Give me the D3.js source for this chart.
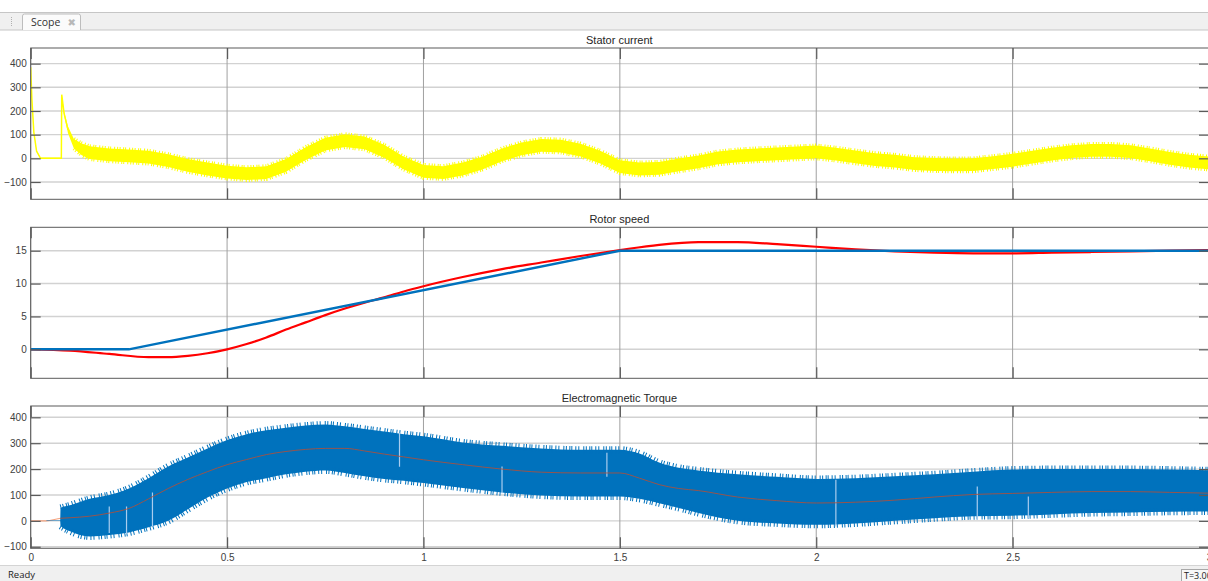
<!DOCTYPE html>
<html>
<head>
<meta charset="utf-8">
<script src="https://cdn.jsdelivr.net/npm/d3@7"></script>
<style>
  html, body { margin: 0; padding: 0; background: #ffffff; overflow: hidden; }
  svg { display: block; }
  text { font-family: "Liberation Sans", Arial, Helvetica, sans-serif; }
</style>
</head>
<body>
<svg id="chart" width="1208" height="581"></svg>
<script>
// ---------------- DATA ----------------
const panelTitles = ["Stator current", "Rotor speed", "Electromagnetic Torque"];
const xTicks = [0, 0.5, 1, 1.5, 2, 2.5, 3];
const xTickLabels = ["0", "0.5", "1", "1.5", "2", "2.5", "3"];
const currentTicks = [-100, 0, 100, 200, 300, 400];
const speedTicks = [0, 5, 10, 15];
const torqueTicks = [-100, 0, 100, 200, 300, 400];

// Stator current: band centre and half-width of the ripple
const currentT = [0, 0.003, 0.008, 0.015, 0.025, 0.078, 0.079, 0.085, 0.095, 0.11, 0.13, 0.15, 0.2, 0.25, 0.3, 0.35, 0.4, 0.45, 0.5, 0.55, 0.6, 0.65, 0.7, 0.75, 0.8, 0.85, 0.9, 0.95, 1.0, 1.05, 1.1, 1.15, 1.2, 1.25, 1.3, 1.35, 1.4, 1.45, 1.5, 1.55, 1.6, 1.65, 1.7, 1.75, 1.8, 1.85, 1.9, 1.95, 2.0, 2.05, 2.1, 2.15, 2.2, 2.25, 2.3, 2.35, 2.4, 2.45, 2.5, 2.55, 2.6, 2.65, 2.7, 2.75, 2.8, 2.85, 2.9, 2.95, 3.0];
const currentMid = [385, 250, 110, 30, 0, 0, 269, 190, 120, 62, 38, 24, 15, 10, 5, -10, -30, -45, -58, -65, -60, -30, 20, 60, 75, 65, 30, -20, -55, -60, -45, -20, 15, 40, 55, 52, 35, 5, -35, -45, -42, -28, -15, 2, 10, 15, 19, 23, 27, 18, 6, -5, -12, -22, -26, -28, -27, -18, -8, 5, 18, 28, 34, 34, 28, 15, 0, -12, -20];
const currentRipple = [2, 2, 2, 2, 2, 2, 3, 8, 14, 20, 25, 27, 27, 27, 27, 27, 27, 27, 27, 27, 27, 27, 27, 27, 27, 27, 27, 27, 27, 27, 27, 27, 27, 27, 27, 27, 27, 27, 27, 27, 27, 27, 27, 27, 27, 27, 27, 27, 27, 27, 27, 27, 27, 27, 27, 27, 27, 27, 27, 27, 27, 27, 27, 27, 27, 27, 27, 27, 27];

// Rotor speed: reference (blue) and measured (red)
const speedRefT = [0, 0.25, 1.5, 3.0];
const speedRef = [0, 0, 15, 15];
const speedT = [0, 0.1, 0.2, 0.3, 0.35, 0.4, 0.45, 0.5, 0.55, 0.6, 0.65, 0.7, 0.75, 0.8, 0.85, 0.9, 0.95, 1.0, 1.1, 1.2, 1.3, 1.4, 1.5, 1.6, 1.7, 1.8, 1.9, 2.0, 2.1, 2.2, 2.3, 2.4, 2.5, 2.6, 2.7, 2.8, 2.9, 3.0];
const speedMeas = [0, -0.2, -0.7, -1.2, -1.2, -1.0, -0.6, 0, 0.8, 1.8, 3.0, 4.1, 5.2, 6.2, 7.1, 7.9, 8.8, 9.6, 11.0, 12.2, 13.2, 14.2, 15.1, 15.9, 16.3, 16.3, 16.0, 15.6, 15.2, 14.9, 14.7, 14.6, 14.6, 14.7, 14.8, 14.9, 15.0, 15.1];

// Electromagnetic torque: ripple envelope (upper/lower) and mean line
const torqueT = [0.04, 0.075, 0.076, 0.1, 0.15, 0.2, 0.25, 0.3, 0.35, 0.4, 0.45, 0.5, 0.55, 0.6, 0.65, 0.7, 0.75, 0.8, 0.85, 0.9, 0.95, 1.0, 1.1, 1.2, 1.3, 1.4, 1.5, 1.55, 1.6, 1.65, 1.7, 1.8, 1.9, 2.0, 2.1, 2.2, 2.3, 2.4, 2.5, 2.6, 2.7, 2.8, 2.9, 3.0];
const torqueUpper = [1, 1, 50, 60, 85, 100, 125, 165, 210, 245, 280, 312, 335, 350, 360, 368, 372, 365, 355, 345, 335, 327, 303, 290, 280, 275, 275, 260, 225, 205, 195, 180, 170, 162, 165, 172, 180, 190, 198, 200, 200, 200, 198, 195];
const torqueLower = [-1, -1, -20, -40, -60, -55, -45, -25, 0, 45, 90, 125, 150, 165, 180, 190, 195, 185, 172, 162, 155, 146, 127, 110, 98, 94, 94, 85, 68, 50, 30, 0, -10, -15, -10, 0, 10, 18, 20, 25, 30, 32, 35, 36];
const torqueMeanT = [0, 0.04, 0.076, 0.1, 0.15, 0.2, 0.25, 0.3, 0.35, 0.4, 0.45, 0.5, 0.55, 0.6, 0.65, 0.7, 0.75, 0.8, 0.85, 0.9, 0.95, 1.0, 1.1, 1.2, 1.3, 1.4, 1.5, 1.55, 1.6, 1.65, 1.7, 1.8, 1.9, 2.0, 2.1, 2.2, 2.3, 2.4, 2.5, 2.6, 2.7, 2.8, 2.9, 3.0];
const torqueMean = [0, 0, 10, 12, 18, 30, 48, 85, 125, 160, 190, 217, 237, 256, 268, 276, 280, 280, 270, 258, 247, 236, 217, 200, 188, 185, 185, 165, 140, 125, 117, 92, 78, 69, 72, 80, 92, 102, 106, 110, 113, 113, 110, 107];
// short light glitches inside the torque band: time, top, bottom
const glitchT = [0.2, 0.244, 0.31, 0.939, 1.2, 1.467, 2.05, 2.41, 2.54];
const glitchTop = [55, 55, 110, 340, 210, 263, 159, 133, 94];
const glitchBottom = [-47, -50, -20, 209, 107, 170, -22, 4, 10];

// ---------------- LAYOUT ----------------
const W = 1208, H = 581;
const plotLeft = 30.7, plotRight = 1209;
const panels = [
  { title: panelTitles[0], top: 48, bottom: 199.3, domain: [-173, 466], ticks: currentTicks },
  { title: panelTitles[1], top: 227.3, bottom: 378.3, domain: [-4.41, 18.56], ticks: speedTicks },
  { title: panelTitles[2], top: 406, bottom: 548.3, domain: [-106, 443.7], ticks: torqueTicks }
];

const svg = d3.select("#chart");
const x = d3.scaleLinear().domain([0, 3]).range([plotLeft, plotRight]);

// ---------------- WINDOW CHROME ----------------
svg.append("rect").attr("x", 0).attr("y", 0).attr("width", W).attr("height", H).attr("fill", "#ffffff");
// tab strip
svg.append("rect").attr("x", 0).attr("y", 12.5).attr("width", W).attr("height", 17.5).attr("fill", "#f0f0f0");
svg.append("line").attr("x1", 0).attr("x2", W).attr("y1", 12.5).attr("y2", 12.5).attr("stroke", "#c6c6c6");
svg.append("line").attr("x1", 0).attr("x2", W).attr("y1", 30).attr("y2", 30).attr("stroke", "#c6c6c6");
svg.append("line").attr("x1", 11.5).attr("x2", 11.5).attr("y1", 17).attr("y2", 27).attr("stroke", "#b0b0b0").attr("stroke-dasharray", "1,1");
svg.append("path").attr("d", "M22.5,30 L22.5,16 Q22.5,14 24.5,14 L78.5,14 Q80.5,14 80.5,16 L80.5,30")
  .attr("fill", "#fbfbfb").attr("stroke", "#bdbdbd");
svg.append("text").attr("x", 31).attr("y", 25.5).attr("font-size", 10.5).attr("fill", "#333")
  .style("font-family", "'Open Sans', 'Noto Sans', sans-serif").text("Scope");
svg.append("text").attr("x", 67.5).attr("y", 25.5).attr("font-size", 10).attr("fill", "#b8b8b8")
  .style("font-family", "'DejaVu Sans', sans-serif").text("✖");

// status bar
svg.append("rect").attr("x", 0).attr("y", 566).attr("width", W).attr("height", 15).attr("fill", "#f0f0f0");
svg.append("line").attr("x1", 0).attr("x2", W).attr("y1", 565.5).attr("y2", 565.5).attr("stroke", "#d4d4d4");
svg.append("text").attr("x", 8).attr("y", 577.5).attr("font-size", 9.5).attr("fill", "#222")
  .style("font-family", "'Open Sans', 'Noto Sans', sans-serif").text("Ready");
svg.append("rect").attr("x", 1181.5).attr("y", 569.5).attr("width", 40).attr("height", 14).attr("fill", "#f7f7f7").attr("stroke", "#a8a8a8");
svg.append("text").attr("x", 1184).attr("y", 579).attr("font-size", 9).attr("fill", "#222")
  .style("font-family", "'Open Sans', 'Noto Sans', sans-serif").text("T=3.000");

// ---------------- PANELS ----------------
const defs = svg.append("defs");
panels.forEach((p, i) => {
  p.y = d3.scaleLinear().domain(p.domain).range([p.bottom, p.top]);
  defs.append("clipPath").attr("id", "clip" + i).append("rect")
    .attr("x", plotLeft).attr("y", p.top).attr("width", plotRight - plotLeft).attr("height", p.bottom - p.top);

  const g = svg.append("g");
  p.g = g;
  // title
  g.append("text").attr("x", (plotLeft + plotRight) / 2 - 0.5).attr("y", p.top - 4)
    .attr("text-anchor", "middle").attr("font-size", 11).attr("fill", "#262626").text(p.title);

  // grid
  const grid = g.append("g");
  grid.selectAll("line.h").data(p.ticks).enter().append("line")
    .attr("x1", plotLeft).attr("x2", plotRight)
    .attr("y1", d => p.y(d)).attr("y2", d => p.y(d))
    .attr("stroke", "#d2d2d2").attr("stroke-width", 1.4);
  grid.selectAll("line.v").data(xTicks).enter().append("line")
    .attr("x1", d => x(d)).attr("x2", d => x(d))
    .attr("y1", p.top).attr("y2", p.bottom)
    .attr("stroke", "#a0a0a0").attr("stroke-width", 1);

  p.data = g.append("g").attr("clip-path", "url(#clip" + i + ")");
});

// ---- Stator current ----
{
  const p = panels[0];
  const pts = currentT.map((t, k) => ({ t, m: currentMid[k], r: currentRipple[k] }));
  const area = d3.area().x(d => x(d.t)).y0(d => p.y(d.m - d.r)).y1(d => p.y(d.m + d.r));
  p.data.append("path").datum(pts).attr("d", area).attr("fill", "#ffff00");
  // ragged edges of the ripple band
  ["hi", "lo"].forEach(side => {
    const ln = d3.line().x(d => x(d.t)).y(d => p.y(side === "hi" ? d.m + d.r : d.m - d.r));
    p.data.append("path").datum(pts.slice(9)).attr("d", ln).attr("fill", "none")
      .attr("stroke", "#ffff00").attr("stroke-width", 4)
      .attr("stroke-dasharray", "1,1.5,1,2.5,1,1,1,3,1,2");
  });
  const ln = d3.line().x(d => x(d.t)).y(d => p.y(d.m));
  p.data.append("path").datum(pts.slice(0, 9)).attr("d", ln).attr("fill", "none")
    .attr("stroke", "#ffff00").attr("stroke-width", 1.5);
}

// ---- Rotor speed ----
{
  const p = panels[1];
  const lnMeas = d3.line().x((d, k) => x(speedT[k])).y(d => p.y(d)).curve(d3.curveMonotoneX);
  p.data.append("path").datum(speedMeas).attr("d", lnMeas).attr("fill", "none")
    .attr("stroke", "#ff0000").attr("stroke-width", 2.2);
  const lnRef = d3.line().x((d, k) => x(speedRefT[k])).y(d => p.y(d));
  p.data.append("path").datum(speedRef).attr("d", lnRef).attr("fill", "none")
    .attr("stroke", "#0072bd").attr("stroke-width", 2.4);
}

// ---- Electromagnetic torque ----
{
  const p = panels[2];
  const pts = torqueT.map((t, k) => ({ t, hi: torqueUpper[k], lo: torqueLower[k] }));
  const mean = d3.line().x((d, k) => x(torqueMeanT[k])).y(d => p.y(d)).curve(d3.curveMonotoneX);
  p.data.append("path").datum(torqueMean).attr("d", mean).attr("fill", "none")
    .attr("stroke", "#f4a37f").attr("stroke-width", 1.2);
  const area = d3.area().x(d => x(d.t)).y0(d => p.y(d.lo)).y1(d => p.y(d.hi)).curve(d3.curveMonotoneX);
  p.data.append("path").datum(pts).attr("d", area).attr("fill", "#0072bd");
  ["hi", "lo"].forEach(side => {
    const ln = d3.line().x(d => x(d.t)).y(d => p.y(d[side])).curve(d3.curveMonotoneX);
    p.data.append("path").datum(pts.slice(2)).attr("d", ln).attr("fill", "none")
      .attr("stroke", "#0072bd").attr("stroke-width", 7)
      .attr("stroke-dasharray", "1,1.5,1,2.5,1,1,1,3,1,2,1,4");
  });
  p.data.selectAll("line.glitch").data(glitchT).enter().append("line")
    .attr("x1", d => x(d)).attr("x2", d => x(d))
    .attr("y1", (d, k) => p.y(glitchTop[k])).attr("y2", (d, k) => p.y(glitchBottom[k]))
    .attr("stroke", "#a9cdef").attr("stroke-width", 1.2);
  p.data.append("path").datum(torqueMean.slice(2)).attr("d",
      d3.line().x((d, k) => x(torqueMeanT[k + 2])).y(d => p.y(d)).curve(d3.curveMonotoneX))
    .attr("fill", "none").attr("stroke", "#b0503a").attr("stroke-width", 1).attr("stroke-opacity", 0.85);
}

// ---------------- AXES & FRAMES ----------------
panels.forEach((p, i) => {
  const g = p.g;
  const left = g.append("g").attr("transform", `translate(${plotLeft},0)`)
    .call(d3.axisLeft(p.y).tickValues(p.ticks).tickSizeInner(-10).tickSizeOuter(0).tickPadding(4).tickFormat(d3.format("d")));
  const right = g.append("g").attr("transform", `translate(${plotRight},0)`)
    .call(d3.axisRight(p.y).tickValues(p.ticks).tickSizeInner(-10).tickSizeOuter(0).tickFormat(""));
  const top = g.append("g").attr("transform", `translate(0,${p.top})`)
    .call(d3.axisTop(x).tickValues(xTicks).tickSizeInner(-11).tickSizeOuter(0).tickFormat(""));
  const bottom = g.append("g").attr("transform", `translate(0,${p.bottom})`)
    .call(d3.axisBottom(x).tickValues(xTicks).tickSizeInner(-11).tickSizeOuter(0).tickPadding(6)
      .tickFormat((d, k) => i === 2 ? xTickLabels[k] : ""));
  [left, right, top, bottom].forEach(a => {
    a.select(".domain").remove();
    a.selectAll(".tick line").attr("stroke", "#5a5a5a").attr("stroke-width", 1.2);
    a.selectAll(".tick text").attr("fill", "#404040").attr("font-size", 10)
      .style("font-family", "'Liberation Sans', Arial, sans-serif");
  });
  g.append("rect").attr("x", plotLeft).attr("y", p.top).attr("width", plotRight - plotLeft).attr("height", p.bottom - p.top)
    .attr("fill", "none").attr("stroke", "#5a5a5a").attr("stroke-width", 1);
});
</script>
</body>
</html>
